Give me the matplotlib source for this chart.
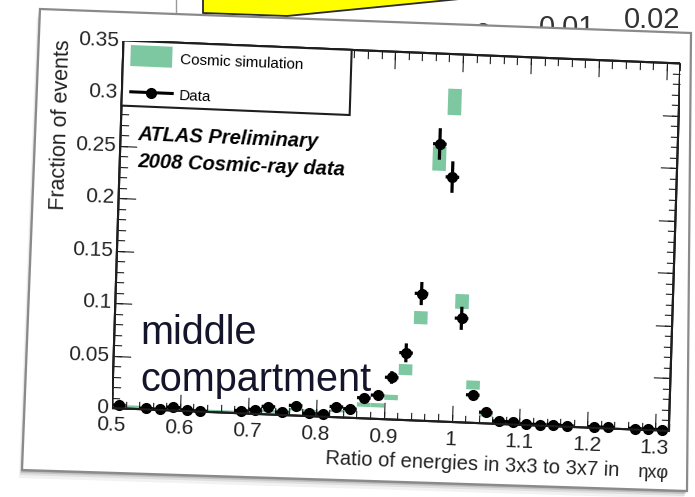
import numpy as np
import matplotlib
matplotlib.use("Agg")
import matplotlib.pyplot as plt
from matplotlib.transforms import Affine2D
from matplotlib.patches import Polygon, Rectangle
import mpl_toolkits.axisartist.floating_axes as floating_axes
from mpl_toolkits.axisartist.grid_finder import FixedLocator, DictFormatter

plt.rcParams['font.family'] = ['Liberation Sans', 'DejaVu Sans']

# ---------------- data ----------------
bin_width = 0.02

data_x = [0.51, 0.55, 0.57, 0.59, 0.61, 0.63, 0.69, 0.71, 0.73, 0.75, 0.77, 0.79,
          0.81, 0.83, 0.85, 0.87, 0.89, 0.91, 0.93, 0.95, 0.97, 0.99, 1.01, 1.03,
          1.05, 1.07, 1.09, 1.11, 1.13, 1.15, 1.17, 1.21, 1.23, 1.27, 1.29, 1.31]
data_y = [0.003, 0.001, 0.0005, 0.003, 0.001, 0.0005, 0.0025, 0.004, 0.0075, 0.0025,
          0.0095, 0.0025, 0.0025, 0.0100, 0.0085, 0.0195, 0.0225, 0.040, 0.064, 0.121,
          0.264, 0.233, 0.099, 0.0265, 0.0105, 0.0025, 0.0025, 0.001, 0.001, 0.0015,
          0.001, 0.001, 0.001, 0.001, 0.001, 0.001]
data_err = [0.001, 0.001, 0.001, 0.001, 0.001, 0.001, 0.001, 0.0015, 0.002, 0.001,
            0.002, 0.001, 0.001, 0.002, 0.002, 0.003, 0.003, 0.006, 0.009, 0.011,
            0.015, 0.015, 0.011, 0.004, 0.002, 0.001, 0.001, 0.001, 0.001, 0.001,
            0.001, 0.001, 0.001, 0.001, 0.001, 0.001]

sim_x = [0.51, 0.53, 0.55, 0.57, 0.59, 0.61, 0.63, 0.65, 0.67, 0.69, 0.71, 0.73,
         0.75, 0.77, 0.79, 0.81, 0.83, 0.85, 0.87, 0.89, 0.91, 0.93, 0.95, 0.97,
         0.99, 1.01, 1.03, 1.05, 1.07, 1.09, 1.11]
sim_y = [0.002, 0.002, 0.001, 0.001, 0.001, 0.001, 0.001, 0.001, 0.001, 0.002,
         0.002, 0.003, 0.004, 0.006, 0.005, 0.004, 0.006, 0.007, 0.013, 0.013,
         0.021, 0.048, 0.098, 0.250, 0.3045, 0.115, 0.036, 0.008, 0.003, 0.002, 0.001]
sim_err = [0.0012, 0.0012, 0.0012, 0.0012, 0.0012, 0.0012, 0.0012, 0.0012, 0.0012,
           0.0012, 0.0012, 0.0012, 0.0012, 0.0012, 0.0012, 0.0012, 0.0012, 0.0012,
           0.002, 0.002, 0.0025, 0.0052, 0.0062, 0.0115, 0.0125, 0.007, 0.0042,
           0.0015, 0.0012, 0.0012, 0.0012]

x_range = (0.5, 1.32)
y_range = (0.0, 0.35)
x_major = [0.5, 0.6, 0.7, 0.8, 0.9, 1.0, 1.1, 1.2, 1.3]
x_labels = ['0.5', '0.6', '0.7', '0.8', '0.9', '1', '1.1', '1.2', '1.3']
y_major = [0.0, 0.05, 0.1, 0.15, 0.2, 0.25, 0.3, 0.35]
y_labels = ['0', '0.05', '0.1', '0.15', '0.2', '0.25', '0.3', '0.35']
x_minor = [round(0.5 + 0.02 * i, 2) for i in range(42)]
y_minor = [round(0.01 * i, 2) for i in range(36)]

sim_color = '#7dc7a1'
ink = '#1e1e1e'

# ---------------- figure + background ----------------
W, H = 695, 497
fig = plt.figure(figsize=(W / 100, H / 100), dpi=100)
fig.patch.set_facecolor('white')

bg = fig.add_axes([0, 0, 1, 1])
bg.set_xlim(0, W)
bg.set_ylim(H, 0)
bg.axis('off')

# slide lying underneath
bg.add_patch(Polygon([(203, -3), (203, 13), (287, 16), (480, -3)], closed=True,
                     facecolor='#ffff00', edgecolor='#2a2a2a', lw=1.3, zorder=1))
bg.plot([176, 176], [-2, 12], color='#9a9a9a', lw=1.0, zorder=1)
for txt, xc, yb in [('0', 483, 43), ('0.01', 567, 36), ('0.02', 652, 28)]:
    bg.text(xc, yb, txt, fontsize=21, color='#333333', ha='center', va='baseline', zorder=1)

# front card with soft shadow
card = [(40, 9), (691, 33), (687, 491), (22, 470)]
for k, a in [(8, 0.05), (5, 0.08), (3, 0.12), (1.5, 0.18)]:
    shadow = [(x - 0.4 * k, y + k) for x, y in card]
    bg.add_patch(Polygon(shadow, closed=True, facecolor='black', alpha=a,
                         edgecolor='none', zorder=2))
bg.add_patch(Polygon(card, closed=True, facecolor='white', edgecolor='#8a8a8a',
                     lw=1.6, zorder=3))

# ---------------- tilted plotting frame ----------------
# pixels per data unit along x and y (display y up) -> slightly rotated frame
ex = (679.0, -28.0)
ey = (33.0, 1050.0)
M = np.array([[ex[0], ey[0], -x_range[0] * ex[0]],
              [ex[1], ey[1], -x_range[0] * ex[1]],
              [0.0, 0.0, 1.0]])
tr = Affine2D(M)
origin_px = (112.0, H - 408.0)   # display position of (x=0.5, y=0)

corners = tr.transform([[x_range[0], y_range[0]], [x_range[1], y_range[0]],
                        [x_range[1], y_range[1]], [x_range[0], y_range[1]]])
xmin, ymin = corners.min(axis=0)
xmax, ymax = corners.max(axis=0)
rect = [(origin_px[0] + xmin) / W, (origin_px[1] + ymin) / H,
        (xmax - xmin) / W, (ymax - ymin) / H]


def make_frame(xlocs, ylocs, xfmt, yfmt, ticksize, with_labels, patch):
    gh = floating_axes.GridHelperCurveLinear(
        tr, extremes=(x_range[0], x_range[1], y_range[0], y_range[1]),
        grid_locator1=FixedLocator(xlocs), grid_locator2=FixedLocator(ylocs),
        tick_formatter1=DictFormatter(xfmt), tick_formatter2=DictFormatter(yfmt))
    a = fig.add_axes(rect, axes_class=floating_axes.FloatingAxes, grid_helper=gh)
    a.set_xlim(xmin, xmax)
    a.set_ylim(ymin, ymax)
    for side in ['left', 'right', 'top', 'bottom']:
        ax_ = a.axis[side]
        ax_.line.set_linewidth(1.5)
        ax_.line.set_color(ink)
        ax_.major_ticks.set_ticksize(ticksize)
        ax_.major_ticks.set_tick_out(False)
        ax_.major_ticks.set_linewidth(1.3)
        ax_.major_ticks.set_color(ink)
        ax_.label.set_visible(False)
        ax_.major_ticklabels.set_visible(False)
    if with_labels:
        for side, pad in [('left', 3), ('bottom', 6.5)]:
            tl = a.axis[side].major_ticklabels
            tl.set_visible(True)
            tl.set_fontsize(15)
            tl.set_color('#222222')
            tl.set_pad(pad)
    if not patch:
        a.patch.set_visible(False)
    return a


ax = make_frame(x_minor, y_minor, dict(zip(x_major, x_labels)),
                dict(zip(y_major, y_labels)), 5.5, True, True)
ax2 = make_frame(x_major, y_major, {}, {}, 12, False, False)

aux = ax.get_aux_axes(tr)
aux2 = ax2.get_aux_axes(tr)

# simulation drawn as filled error boxes
aux.bar(sim_x, [2 * e for e in sim_err], bottom=[v - e for v, e in zip(sim_y, sim_err)],
        width=bin_width, color=sim_color, linewidth=0, zorder=2)
# data points with error bars
aux.errorbar(data_x, data_y, yerr=data_err, xerr=bin_width / 2, fmt='o', color='black',
             markersize=7, elinewidth=2.3, capsize=0, zorder=4, clip_on=False)

rot_x = np.degrees(np.arctan2(ex[1], ex[0]))
rot_y = np.degrees(np.arctan2(ey[1], ey[0]))

# legend box
aux2.add_patch(Rectangle((0.5, 0.288), 0.336, 0.062, facecolor='white',
                         edgecolor=ink, lw=1.5, zorder=6))
aux2.add_patch(Rectangle((0.511, 0.326), 0.0615, 0.02, facecolor=sim_color,
                         edgecolor='none', zorder=7))
aux2.plot([0.513, 0.574], [0.3015, 0.3015], color='black', lw=2.2, zorder=7)
aux2.plot([0.5435], [0.3015], 'o', color='black', ms=7, zorder=8)
aux2.text(0.584, 0.3337, 'Cosmic simulation', fontsize=11,
          rotation=rot_x, rotation_mode='anchor', ha='left', va='center', zorder=8)
aux2.text(0.584, 0.2996, 'Data', fontsize=11,
          rotation=rot_x, rotation_mode='anchor', ha='left', va='center', zorder=8)

# labels inside the frame
aux2.text(0.5256, 0.2607, 'ATLAS Preliminary', fontsize=14.5, fontweight='bold',
          fontstyle='italic', rotation=rot_x, rotation_mode='anchor',
          ha='left', va='center', zorder=8)
aux2.text(0.527, 0.235, '2008 Cosmic-ray data', fontsize=14.5, fontweight='bold',
          fontstyle='italic', rotation=rot_x, rotation_mode='anchor',
          ha='left', va='center', zorder=8)

# axis titles
aux2.text(0.412, 0.349, 'Fraction of events', fontsize=15.5, color='#222222',
          rotation=rot_y, rotation_mode='anchor', ha='right', va='center')
aux2.text(1.2497, -0.040, 'Ratio of energies in 3x3 to 3x7 in', fontsize=14.5,
          color='#222222', rotation=rot_x, rotation_mode='anchor', ha='right', va='center')
aux2.text(1.3205, -0.041, 'ηxφ', fontsize=13, color='#222222',
          rotation=rot_x, rotation_mode='anchor', ha='right', va='center')

# overlay caption
fig.text(140 / W, 1 - 333 / H, 'middle', fontsize=28.5, color='#14142a',
         ha='left', va='center')
fig.text(140 / W, 1 - 380 / H, 'compartment', fontsize=28.5, color='#14142a',
         ha='left', va='center')

fig.savefig('out.png', dpi=100, facecolor='white')
